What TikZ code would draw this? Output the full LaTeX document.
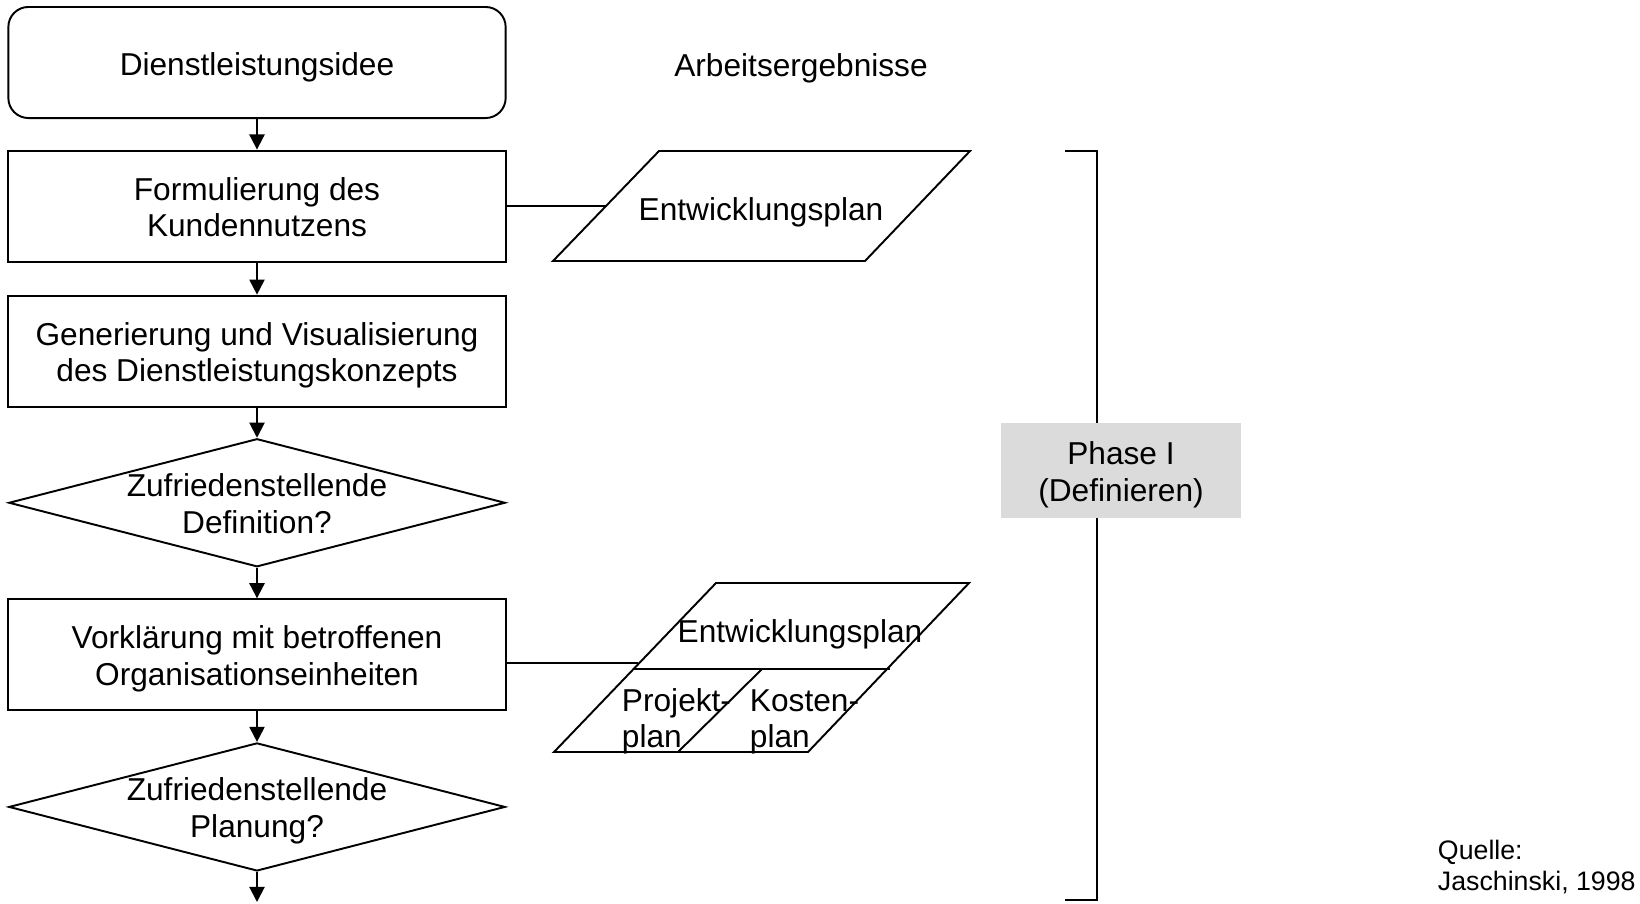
\documentclass[tikz,border=0pt]{standalone}
\usepackage{fontspec}
\setmainfont{Liberation Sans}
\usepackage{tikz}
\usetikzlibrary{arrows.meta}
\usetikzlibrary{positioning}
\usetikzlibrary{shapes,calc}
% lower the text inside a box a little
\newcommand{\lowtext}[1]{\raisebox{0pt}[\dimexpr\height+0.1cm\relax]{#1}}
\tikzset{
    start/.style={
           rectangle,
           rounded corners=0.2cm,
           draw=black,
           minimum width=4.97cm,
           minimum height=1.11cm,
           inner sep=2pt,
           text centered,
           },
    task/.style={
           rectangle,
           draw=black,
           minimum width=4.97cm,
           minimum height=1.11cm,
           inner sep=2pt,
           text centered,
           },
    decision/.style={
           diamond,
           draw=black,
           minimum width=4.96cm,
           minimum height=1.28cm,
           inner sep=0pt,
           },
    result/.style={
           inner sep=0pt,
           },
    phase/.style={
           rectangle,
           fill=black!14,
           minimum width=2.4cm,
           minimum height=0.95cm,
           inner sep=0pt,
           text centered,
           },
}
\begin{document}
\begin{tikzpicture}
[
x=0.01cm, y=-0.01cm,
>={Triangle[length=4.3pt,width=4.3pt]},
line width=0.55pt,
font=\fontsize{9}{10.4}\selectfont
]
\useasboundingbox (0,0) rectangle (1640,903);

 % STATE IDEE
 \node[start] (IDEE) at (257,62.5)
 {%
 \lowtext{Dienstleistungsidee}
 };

 % STATE KUNDE
 \node[task,
 below of=IDEE,
 node distance=1.435cm] (KUNDE)
 {%
 \lowtext{\begin{tabular}{@{}c@{}}
  Formulierung des\\
  Kundennutzens
 \end{tabular}}
 };

 % STATE KONZEPT
 \node[task,
 below of=KUNDE,
 node distance=1.45cm] (KONZEPT)
 {%
 \lowtext{\begin{tabular}{@{}c@{}}
  Generierung und Visualisierung\\
  des Dienstleistungskonzepts
 \end{tabular}}
 };

 % DECISION DEF
 \node[decision,
 below of=KONZEPT,
 node distance=1.515cm] (DEF)
 {%
 \makebox[0pt]{\lowtext{\begin{tabular}{@{}c@{}}
  Zufriedenstellende\\
  Definition?
 \end{tabular}}}
 };

 % STATE VORKL
 \node[task,
 below of=DEF,
 node distance=1.52cm] (VORKL)
 {%
 \lowtext{\begin{tabular}{@{}c@{}}
  Vorkl\"arung mit betroffenen\\
  Organisationseinheiten
 \end{tabular}}
 };

 % DECISION PLAN
 \node[decision,
 below of=VORKL,
 node distance=1.52cm] (PLAN)
 {%
 \makebox[0pt]{\lowtext{\begin{tabular}{@{}c@{}}
  Zufriedenstellende\\
  Planung?
 \end{tabular}}}
 };
 \coordinate (ENDE) at (257,902);

 % results column
 \node (ARB) at (801,68) {Arbeitsergebnisse};

 \draw (659,151) -- (970,151) -- (865,261) -- (553,261) -- cycle;
 \node[result] (ENTW) at (761,212) {Entwicklungsplan};
 \coordinate (ENTWIN) at (606,206);

 \draw (716,583) -- (969,583) -- (808,752) -- (554,752) -- cycle;
 \draw (633,669) -- (890,669);
 \draw (762,669) -- (678,752);
 \node[result] (ENTWB) at (800,634) {Entwicklungsplan};
 \node[result, anchor=west] (PROJ) at (621,722)
 {\begin{tabular}{@{}l@{}}Projekt-\\plan\end{tabular}};
 \node[result, anchor=west] (KOST) at (749,722)
 {\begin{tabular}{@{}l@{}}Kosten-\\plan\end{tabular}};
 \coordinate (ENTWBIN) at (638,663);

 % phase bracket
 \draw (1065,151) -| (1097,900) -- (1065,900);
 \node[phase] (PHASE) at (1121,470.5)
 {%
 \lowtext{\begin{tabular}{@{}c@{}}
  Phase I\\
  (Definieren)
 \end{tabular}}
 };

 \node[anchor=west, inner sep=0pt,
 font=\fontsize{7.6}{8.6}\selectfont] (QUELLE) at (1437,869)
 {\begin{tabular}{@{}l@{}}Quelle:\\Jaschinski, 1998\end{tabular}};

 % draw the paths
 \path[->]
  (IDEE) edge (KUNDE)
  (KUNDE) edge (KONZEPT)
  (KONZEPT) edge (DEF)
  (DEF) edge (VORKL)
  (VORKL) edge (PLAN)
  (PLAN) edge (ENDE)
 ;
 \path
  (KUNDE) edge (ENTWIN)
  (VORKL.east |- ENTWBIN) edge (ENTWBIN)
 ;
\end{tikzpicture}
\end{document}
